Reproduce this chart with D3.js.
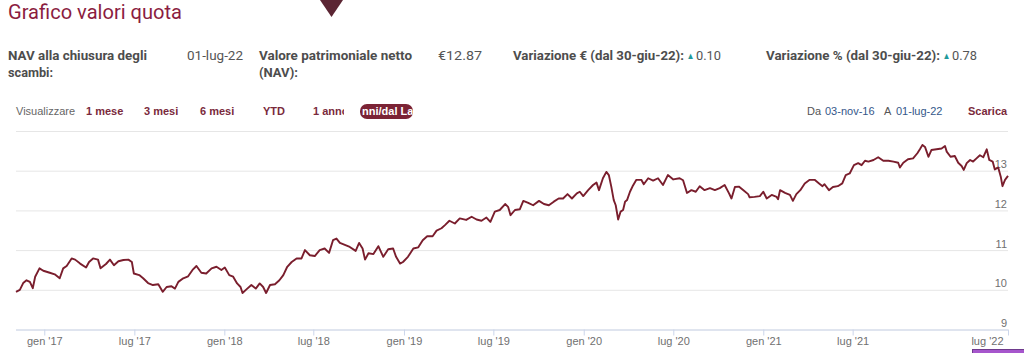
<!DOCTYPE html>
<html><head><meta charset="utf-8">
<script src="https://cdn.jsdelivr.net/npm/d3@7/dist/d3.min.js"></script>
<style>
html,body{margin:0;padding:0;background:#fff;overflow:hidden}
svg{display:block}
</style></head>
<body>
<svg id="c" width="1024" height="353"></svg>
<script>
// ---------- DATA ----------
const navDates = ["2016-11-03","2016-11-11","2016-11-18","2016-11-25","2016-12-02","2016-12-08","2016-12-13","2016-12-22","2016-12-30",
"2017-01-12","2017-01-22","2017-02-01","2017-02-08","2017-02-15","2017-02-25","2017-03-04","2017-03-14","2017-03-26","2017-04-01","2017-04-09","2017-04-19","2017-04-24","2017-05-05","2017-05-13","2017-05-21","2017-05-30","2017-06-09","2017-06-19","2017-06-26","2017-06-30",
"2017-07-11","2017-07-19","2017-07-29","2017-08-08","2017-08-19","2017-08-28","2017-09-05","2017-09-15","2017-09-22","2017-09-29","2017-10-09","2017-10-19","2017-10-28","2017-11-05","2017-11-15","2017-11-25","2017-12-06","2017-12-16","2017-12-26",
"2018-01-02","2018-01-11","2018-01-19","2018-01-27","2018-02-03","2018-02-07","2018-02-15","2018-02-25","2018-03-06","2018-03-14","2018-03-21","2018-03-27","2018-04-04","2018-04-14","2018-04-23","2018-05-01","2018-05-09","2018-05-18","2018-05-28","2018-06-07","2018-06-14","2018-06-24",
"2018-07-04","2018-07-14","2018-07-24","2018-08-02","2018-08-10","2018-08-17","2018-08-24","2018-09-03","2018-09-13","2018-09-25","2018-10-02","2018-10-09","2018-10-14","2018-10-21","2018-10-31","2018-11-10","2018-11-20","2018-11-30","2018-12-10","2018-12-16","2018-12-24","2018-12-30",
"2019-01-09","2019-01-20","2019-01-30","2019-02-08","2019-02-17","2019-02-28","2019-03-08","2019-03-18","2019-03-25","2019-04-03","2019-04-14","2019-04-24","2019-05-07","2019-05-18","2019-05-28","2019-06-07","2019-06-17","2019-06-25",
"2019-07-04","2019-07-14","2019-07-25","2019-07-31","2019-08-05","2019-08-14","2019-08-24","2019-08-31","2019-09-10","2019-09-20","2019-10-02","2019-10-12","2019-10-22","2019-11-01","2019-11-11","2019-11-20","2019-11-29","2019-12-08","2019-12-18","2019-12-24","2019-12-31",
"2020-01-10","2020-01-20","2020-01-27","2020-02-01","2020-02-09","2020-02-16","2020-02-21","2020-02-26","2020-03-02","2020-03-06","2020-03-11","2020-03-16","2020-03-21","2020-03-25","2020-03-29","2020-04-04","2020-04-09","2020-04-17","2020-04-27","2020-05-02","2020-05-11","2020-05-21","2020-05-31","2020-06-10","2020-06-20",
"2020-07-01","2020-07-14","2020-07-21","2020-07-29","2020-08-07","2020-08-16","2020-08-24","2020-09-03","2020-09-14","2020-09-24","2020-10-04","2020-10-14","2020-10-23","2020-10-28","2020-11-04","2020-11-12","2020-11-22","2020-12-01","2020-12-04","2020-12-14","2020-12-25",
"2021-01-01","2021-01-08","2021-01-18","2021-01-28","2021-01-31","2021-02-04","2021-02-14","2021-02-24","2021-03-02","2021-03-09","2021-03-17","2021-03-26","2021-04-05","2021-04-15","2021-04-24","2021-05-01","2021-05-05","2021-05-14","2021-05-22","2021-06-01","2021-06-10","2021-06-17","2021-06-25",
"2021-07-04","2021-07-14","2021-07-22","2021-07-30","2021-08-07","2021-08-19","2021-08-30","2021-09-11","2021-09-23","2021-10-05","2021-10-16","2021-10-20","2021-10-28","2021-11-08","2021-11-20","2021-11-30","2021-12-06","2021-12-12","2021-12-18","2021-12-26",
"2022-01-02","2022-01-14","2022-01-26","2022-02-03","2022-02-07","2022-02-16","2022-02-26","2022-03-06","2022-03-14","2022-03-19","2022-03-26","2022-04-03","2022-04-10","2022-04-18","2022-04-26","2022-05-04","2022-05-12","2022-05-18","2022-05-26","2022-05-31","2022-06-08","2022-06-14","2022-06-18","2022-06-24","2022-07-01"];

const navValues = [9.95,10.00,10.17,10.24,10.20,10.04,10.33,10.54,10.48,
10.43,10.39,10.29,10.54,10.60,10.79,10.76,10.66,10.56,10.70,10.79,10.76,10.54,10.65,10.76,10.62,10.72,10.75,10.76,10.70,10.41,
10.37,10.29,10.17,10.12,10.14,9.95,10.07,10.09,10.03,10.20,10.29,10.34,10.50,10.60,10.43,10.41,10.54,10.58,10.50,
10.56,10.37,10.33,10.16,10.07,9.92,10.01,10.12,10.03,10.16,10.07,9.92,10.12,10.14,10.24,10.37,10.58,10.70,10.79,10.79,11.00,10.87,
10.85,11.00,11.04,10.93,11.25,11.29,11.18,11.13,11.08,10.98,11.18,11.04,10.76,10.92,10.90,11.10,10.83,11.02,11.04,10.83,10.66,10.70,
10.83,11.04,11.07,11.25,11.35,11.35,11.49,11.55,11.63,11.74,11.67,11.80,11.76,11.84,11.77,11.74,11.82,11.71,
11.97,12.01,12.16,12.09,11.88,12.01,12.03,12.24,12.19,12.13,12.24,12.16,12.13,12.22,12.30,12.30,12.41,12.30,12.43,12.47,12.36,
12.51,12.64,12.70,12.51,12.81,12.97,12.89,12.60,12.26,12.13,11.77,11.97,12.01,12.22,12.26,12.47,12.60,12.77,12.77,12.66,12.81,12.75,12.81,12.64,12.89,
12.78,12.81,12.76,12.44,12.51,12.47,12.61,12.51,12.56,12.51,12.56,12.64,12.43,12.30,12.59,12.60,12.50,12.41,12.33,12.34,12.36,
12.47,12.30,12.39,12.34,12.28,12.51,12.44,12.39,12.24,12.41,12.51,12.68,12.77,12.77,12.68,12.61,12.66,12.51,12.59,12.61,12.68,12.89,12.93,
13.14,13.19,13.14,13.25,13.23,13.27,13.34,13.25,13.25,13.23,13.20,13.08,13.20,13.29,13.31,13.44,13.54,13.65,13.60,13.35,
13.52,13.54,13.56,13.62,13.48,13.35,13.37,13.20,13.12,13.02,13.19,13.27,13.23,13.31,13.39,13.34,13.54,13.27,13.23,13.03,13.08,12.85,12.61,12.77,12.87];

// x-axis tick dates and labels (Highcharts-style ordinal axis, no "gen '22" label in the original)
const tickDates  = ["2017-01-01","2017-07-01","2018-01-01","2018-07-01","2019-01-01","2019-07-01","2020-01-01","2020-07-01","2021-01-01","2021-07-01","2022-07-01"];
const tickLabels = ["gen '17","lug '17","gen '18","lug '18","gen '19","lug '19","gen '20","lug '20","gen '21","lug '21","lug '22"];
// ordinal axis anchors: date -> fraction of plot width
const ordinalDates = ["2016-11-03","2017-01-01","2017-07-01","2018-01-01","2018-07-01","2019-01-01","2019-07-01","2020-01-01","2020-07-01","2021-01-01","2021-07-01","2022-07-01"];
const ordinalFrac  = [0,0.0285,0.1193,0.2100,0.2997,0.3911,0.4812,0.5723,0.6626,0.7533,0.8434,1.0];
const yTicks = [9,10,11,12,13,14];
const yLabels = ["9","10","11","12","13"];

// ---------- DRAW ----------
const parse = d3.timeParse("%Y-%m-%d");
const data = navDates.map((d,i)=>({date:parse(d), v:navValues[i]}));
const svg = d3.select("#c");

const L = 16, R = 1008, T = 131, B = 329.5;
const x = d3.scaleTime().domain(ordinalDates.map(parse)).range(ordinalFrac.map(f=>L+f*(R-L)));
const y = d3.scaleLinear().domain([9,14]).range([B,T]);

const HEAD = "Roboto, 'Noto Sans', sans-serif";
const UI = "'Liberation Sans', Arial, sans-serif";

// header triangle
svg.append("path").attr("d","M320,0 L343,0 L331.5,17 Z").attr("fill","#5b2533");

// title
svg.append("text").attr("x",8).attr("y",18.5).text("Grafico valori quota")
  .attr("font-family",HEAD).attr("font-size",19.5).attr("fill","#8b1d3f")
  .attr("textLength",174).attr("lengthAdjust","spacingAndGlyphs");

// info row
function info(t,xx,yy,w,bold,col){
  const e = svg.append("text").attr("x",xx).attr("y",yy).text(t)
    .attr("font-family",HEAD).attr("font-size",12.3).attr("font-weight",bold?700:400)
    .attr("fill",col||"#4d4d4d");
  if(w) e.attr("textLength",w).attr("lengthAdjust","spacingAndGlyphs");
  return e;
}
info("NAV alla chiusura degli",8,59.5,139,true);
info("scambi:",8,76.5,45,true);
info("01-lug-22",187,59.5,56,false,"#555");
info("Valore patrimoniale netto",259,59.5,153,true);
info("(NAV):",259,76.5,39,true);
info("€12.87",438,59.5,44,false,"#555");
info("Variazione € (dal 30-giu-22):",513,59.5,171,true);
info("▲",686.5,59,8,false,"#1f9a9b").attr("font-size",9.5);
info("0.10",696,59.5,25,false,"#555");
info("Variazione % (dal 30-giu-22):",766,59.5,174,true);
info("▲",942.5,59,8,false,"#1f9a9b").attr("font-size",9.5);
info("0.78",952,59.5,25,false,"#555");

// range selector row
const rowY = 115;
svg.append("text").attr("x",16).attr("y",rowY).text("Visualizzare")
  .attr("font-family",UI).attr("font-size",11).attr("fill","#666");
const btns = [["1 mese",86],["3 mesi",144],["6 mesi",200],["YTD",263]];
btns.forEach(b=>svg.append("text").attr("x",b[1]).attr("y",rowY).text(b[0])
  .attr("font-family",UI).attr("font-size",11).attr("font-weight",700).attr("fill","#7a2a3c"));
svg.append("clipPath").attr("id","clip1").append("rect").attr("x",300).attr("y",95).attr("width",44).attr("height",30);
svg.append("text").attr("x",313).attr("y",rowY).text("1 anno").attr("clip-path","url(#clip1)")
  .attr("font-family",UI).attr("font-size",11).attr("font-weight",700).attr("fill","#7a2a3c");
svg.append("rect").attr("x",360).attr("y",104).attr("width",53).attr("height",15).attr("rx",7).attr("fill","#7b2335");
svg.append("clipPath").attr("id","clip2").append("rect").attr("x",360).attr("y",104).attr("width",53).attr("height",15).attr("rx",7);
svg.append("text").attr("x",362).attr("y",rowY).text("nni/dal Lancio").attr("clip-path","url(#clip2)")
  .attr("font-family",UI).attr("font-size",11).attr("font-weight",700).attr("fill","#fff");

svg.append("text").attr("x",807).attr("y",rowY).text("Da").attr("font-family",UI).attr("font-size",11).attr("fill","#555");
svg.append("text").attr("x",825).attr("y",rowY).text("03-nov-16").attr("font-family",UI).attr("font-size",11).attr("fill","#34578a");
svg.append("text").attr("x",884).attr("y",rowY).text("A").attr("font-family",UI).attr("font-size",11).attr("fill","#555");
svg.append("text").attr("x",896).attr("y",rowY).text("01-lug-22").attr("font-family",UI).attr("font-size",11).attr("fill","#34578a");
svg.append("text").attr("x",968).attr("y",rowY).text("Scarica").attr("font-family",UI).attr("font-size",11).attr("font-weight",700).attr("fill","#7a2a3c");

// y gridlines
const gy = svg.append("g").attr("transform",`translate(${L},0)`)
  .call(d3.axisRight(y).tickValues(yTicks).tickSize(R-L).tickFormat(""));
gy.select(".domain").remove();
gy.selectAll(".tick line").attr("stroke","#e6e6e6").attr("stroke-width",1);

// y labels
svg.append("g").selectAll("text").data(yLabels).join("text")
  .attr("x",1007).attr("y",d=>y(+d)-2.5).attr("text-anchor","end").text(d=>d)
  .attr("font-family",UI).attr("font-size",11).attr("fill","#707070");

// x axis
const gx = svg.append("g").attr("transform",`translate(0,${B})`)
  .call(d3.axisBottom(x).tickValues(tickDates.map(parse)).tickSize(6).tickSizeOuter(0)
  .tickFormat((d,i)=>tickLabels[i]));
gx.select(".domain").attr("stroke","#ccd6eb").attr("d",`M${L},0.5H${R}`);
gx.selectAll(".tick line").attr("stroke","#ccd6eb");
gx.selectAll(".tick text").attr("font-family",UI).attr("font-size",11).attr("fill","#707070").attr("dy","0.6em").attr("y",8.5);
gx.selectAll(".tick text").filter((d,i)=>i===tickLabels.length-1).attr("text-anchor","end").attr("dx","-5");

// line
svg.append("path").datum(data)
  .attr("d",d3.line().x(d=>x(d.date)).y(d=>y(d.v)))
  .attr("fill","none").attr("stroke","#7a1e2d").attr("stroke-width",1.9).attr("stroke-linejoin","round");

// small purple element at bottom right
svg.append("rect").attr("x",972.5).attr("y",349.5).attr("width",60).attr("height",10)
  .attr("fill","#a656cc").attr("stroke","#6e3a8c");
</script>
</body></html>
